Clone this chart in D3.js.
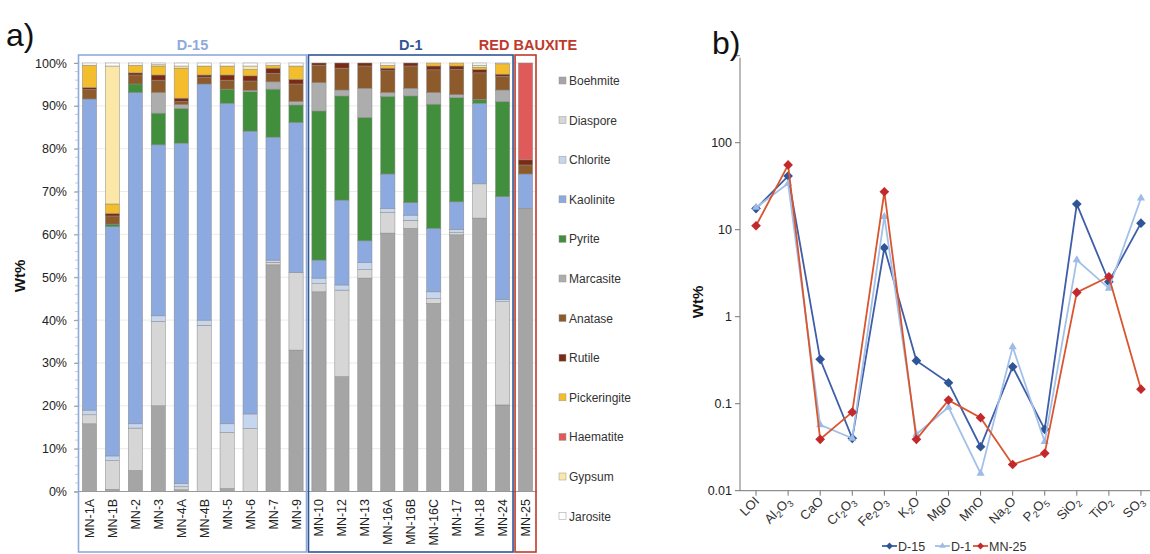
<!DOCTYPE html>
<html><head><meta charset="utf-8">
<script src="https://cdn.jsdelivr.net/npm/d3@7"></script>
<style>body{margin:0;background:#fff}svg{display:block;font-family:"Liberation Sans",Arial,sans-serif}</style>
</head><body><svg id="c" width="1150" height="554"></svg>
<script>
// ---------- data (a) ----------
const samples = ["MN-1A","MN-1B","MN-2","MN-3","MN-4A","MN-4B","MN-5","MN-6","MN-7","MN-9","MN-10","MN-12","MN-13","MN-16A","MN-16B","MN-16C","MN-17","MN-18","MN-24","MN-25"];
const minerals = ["Boehmite","Diaspore","Chlorite","Kaolinite","Pyrite","Marcasite","Anatase","Rutile","Pickeringite","Haematite","Gypsum","Jarosite"];
const boehmite     = [15.8,0.5,4.9,20,0.4,0,0.7,0,52.9,33,46.6,26.8,49.8,60.3,61.4,43.9,59.9,63.8,20.2,66.1];
const diaspore     = [2.1,6.7,9.9,19.7,0.7,38.8,13.1,14.7,0.6,18.1,1.9,20.2,2.0,4.8,1.9,1.1,0.5,8.0,24.1,0];
const chlorite     = [1.1,1.1,1.0,1.3,0.8,1.2,2.0,3.4,0.5,0,1.3,1.2,1.7,1.0,1.2,1.6,0.8,0,0.5,0];
const kaolinite    = [72.6,53.5,77.3,39.9,79.4,55.1,74.8,66.0,28.7,35.0,4.2,19.8,5.0,8.0,2.9,14.8,6.4,18.8,24.0,8.0];
const pyrite       = [0,0.6,2.0,7.4,8.1,0,3.3,9.2,11.2,4.1,34.8,24.3,28.8,18.1,24.9,29.0,24.3,0.9,22.2,0];
const marcasite    = [0,0,0,4.8,0.9,0,0,0.3,1.7,0.8,6.6,1.4,6.8,0.9,1.8,2.7,0.7,0,2.7,0];
const anatase      = [2.2,1.9,2.1,2.9,0.7,1.6,2.1,2.2,2.0,4.1,4.1,5.1,5.2,5.1,5.2,5.3,5.9,6.2,3.2,2.1];
const rutile       = [0.5,0.6,0.5,1.2,0.8,0.5,1.2,1.2,1.2,1.1,0.5,1.2,0.7,0.6,0.7,0.9,0.8,0.8,0.5,1.2];
const pickeringite = [5.2,2.2,1.8,2.1,7.0,2.1,2.1,1.5,0.7,3.1,0,0,0,0.7,0,0.7,0.7,0.5,2.4,0];
const haematite    = [0,0,0,0,0,0,0,0,0,0,0,0,0,0,0,0,0,0,0,22.6];
const gypsum       = [0,32.2,0,0.3,0.5,0,0,0.8,0,0,0,0,0,0,0,0,0,0.5,0,0];
const jarosite     = [0.5,0.7,0.5,0.4,0.7,0.7,0.7,0.7,0.5,0.7,0,0,0,0.5,0,0,0,0.5,0.2,0];
const percentTicks = [0,10,20,30,40,50,60,70,80,90,100];
const groups = [{name:"D-15",from:0,to:9},{name:"D-1",from:10,to:18},{name:"RED BAUXITE",from:19,to:19}];

// ---------- data (b) ----------
const oxides = ["LOI","Al2O3","CaO","Cr2O3","Fe2O3","K2O","MgO","MnO","Na2O","P2O5","SiO2","TiO2","SO3"];
const d15  = [17.5,41.4,0.324,0.040,6.2,0.312,0.174,0.032,0.266,0.0508,19.7,2.52,11.9];
const d1   = [18.0,34.0,0.057,0.040,14.1,0.0445,0.091,0.0158,0.45,0.0366,4.49,2.12,23.0];
const mn25 = [11.1,55.5,0.039,0.080,27.3,0.039,0.110,0.069,0.020,0.0269,1.90,2.88,0.147];
const logTicks = [0.01,0.1,1,10,100];

// ---------- styles ----------
const mineralColor = {Boehmite:"#a5a5a5",Diaspore:"#d6d6d6",Chlorite:"#c6d6ee",Kaolinite:"#8caadf",Pyrite:"#418f3c",
  Marcasite:"#adadad",Anatase:"#8d5a2c",Rutile:"#7a2b13",Pickeringite:"#f3bd2e",Haematite:"#e05a5a",Gypsum:"#fbe7a8",Jarosite:"#ffffff"};
const groupColor = {"D-15":"#8eaadb","D-1":"#2f5597","RED BAUXITE":"#c0392b"};

const svg = d3.select("#c");
svg.append("rect").attr("width",1150).attr("height",554).attr("fill","#fff");

// ================= chart a =================
const series = {Boehmite:boehmite,Diaspore:diaspore,Chlorite:chlorite,Kaolinite:kaolinite,Pyrite:pyrite,Marcasite:marcasite,
  Anatase:anatase,Rutile:rutile,Pickeringite:pickeringite,Haematite:haematite,Gypsum:gypsum,Jarosite:jarosite};
const table = samples.map((s,i)=>{const o={sample:s};minerals.forEach(m=>o[m]=series[m][i]);return o;});
const xA = d3.scaleBand().domain(samples).range([78,537]).paddingInner(0.38).paddingOuter(0.19);
const yA = d3.scaleLinear().domain([0,100]).range([491.5,63]);
const gA = svg.append("g");

gA.append("g").selectAll("line").data(percentTicks.slice(1)).join("line")
  .attr("x1",78).attr("x2",537).attr("y1",d=>yA(d)).attr("y2",d=>yA(d))
  .attr("stroke","#e6e6e6").attr("stroke-width",0.8);

const stacked = d3.stack().keys(minerals)(table);
gA.append("g").selectAll("g").data(stacked).join("g")
  .attr("fill",d=>mineralColor[d.key])
  .selectAll("rect").data(d=>d.filter(p=>p[1]-p[0]>0)).join("rect")
  .attr("x",d=>xA(d.data.sample)).attr("width",xA.bandwidth())
  .attr("y",d=>yA(d[1])).attr("height",d=>yA(d[0])-yA(d[1]))
  .attr("stroke","#8a8a8a").attr("stroke-width",0.5);

const axA = d3.axisLeft(yA).tickValues(percentTicks).tickFormat(d=>d+"%").tickSize(4);
const ay = gA.append("g").attr("transform","translate(78,0)").call(axA);
ay.select(".domain").attr("stroke","#b0b0b0");
ay.selectAll(".tick line").attr("stroke","#999");
ay.selectAll("text").attr("font-size",12.5).attr("fill","#222").attr("x",-11);
gA.append("g").selectAll("line").data(d3.range(0,101,2)).join("line")
  .attr("x1",75).attr("x2",78).attr("y1",d=>yA(d)).attr("y2",d=>yA(d)).attr("stroke","#aaa").attr("stroke-width",0.6);
gA.append("line").attr("x1",78).attr("x2",537).attr("y1",491.5).attr("y2",491.5).attr("stroke","#999");
gA.append("g").selectAll("text").data(samples).join("text")
  .attr("transform",d=>`translate(${xA(d)+xA.bandwidth()/2+4.5},499) rotate(-90)`)
  .attr("text-anchor","end").attr("font-size",12.5).attr("fill","#222").text(d=>d);

groups.forEach(g=>{
  const x0 = xA(samples[g.from]) - xA.step()*xA.paddingInner()/2;
  const left = g.from===0 ? 78.5 : x0+1;
  const right = xA(samples[g.to]) + xA.bandwidth() + xA.step()*xA.paddingInner()/2 - 1;
  gA.append("rect").attr("x",left).attr("y",55).attr("width",right-left).attr("height",497)
    .attr("fill","none").attr("stroke",groupColor[g.name]).attr("stroke-width",1.6);
  gA.append("text").attr("x",g.name==="RED BAUXITE"?528:(left+right)/2).attr("y",50).attr("text-anchor","middle")
    .attr("font-size",14.5).attr("font-weight","bold").attr("fill",groupColor[g.name]).text(g.name);
});

const lg = gA.append("g").selectAll("g").data(minerals).join("g")
  .attr("transform",(d,i)=>`translate(559,${81+i*39.6})`);
lg.append("rect").attr("x",0).attr("y",-4).attr("width",7).attr("height",7)
  .attr("fill",d=>mineralColor[d]).attr("stroke","#999").attr("stroke-width",0.5);
lg.append("text").attr("x",10).attr("y",4).attr("font-size",12).attr("fill","#333").text(d=>d);

svg.append("text").attr("x",25).attr("y",276).attr("transform","rotate(-90,25,276)").attr("text-anchor","middle")
  .attr("font-size",15).attr("font-weight","bold").attr("fill","#111").text("Wt%");
svg.append("text").attr("x",6).attr("y",46).attr("font-size",32).attr("fill","#111").text("a)");

// ================= chart b =================
const xB = d3.scaleBand().domain(oxides).range([740,1157]);
const cx = d=>xB(d)+xB.bandwidth()/2;
const yB = d3.scaleLog().domain([0.01,1000]).range([490.7,55.7]);
const gB = svg.append("g");
gB.append("line").attr("x1",740).attr("x2",740).attr("y1",yB(1000)+2).attr("y2",yB(0.01)).attr("stroke","#777");
gB.append("line").attr("x1",740).attr("x2",1150).attr("y1",yB(0.01)).attr("y2",yB(0.01)).attr("stroke","#777");
gB.append("g").selectAll("line").data(logTicks.concat([1000])).join("line")
  .attr("x1",735).attr("x2",740).attr("y1",d=>yB(d)).attr("y2",d=>yB(d)).attr("stroke","#777");
gB.append("g").selectAll("text").data(logTicks).join("text")
  .attr("x",732).attr("y",d=>yB(d)+4).attr("text-anchor","end").attr("font-size",12.5).attr("fill","#222")
  .text(d=>d3.format("~g")(d));
gB.append("g").selectAll("line").data(oxides).join("line")
  .attr("x1",d=>cx(d)).attr("x2",d=>cx(d)).attr("y1",yB(0.01)).attr("y2",yB(0.01)+5).attr("stroke","#777");
const xl = gB.append("g").selectAll("text").data(oxides).join("text")
  .attr("transform",d=>`translate(${cx(d)+4},502) rotate(-45)`)
  .attr("text-anchor","end").attr("font-size",13).attr("fill","#333");
xl.each(function(d){
  const t = d3.select(this); const parts = d.match(/\d+|\D+/g); let sub=false;
  parts.forEach(p=>{
    const isNum=/\d/.test(p);
    const ts=t.append("tspan").text(p);
    if(isNum){ts.attr("font-size",9).attr("dy",3);sub=true;}
    else if(sub){ts.attr("dy",-3);sub=false;}
  });
  if(sub) t.append("tspan").attr("dy",-3).text("");
});

const lineSeries = [
  {name:"D-15",vals:d15,line:"#3e5ea8",mark:"#2f5597",shape:"diamond"},
  {name:"D-1",vals:d1,line:"#a3c0e8",mark:"#9dbbe6",shape:"triangle"},
  {name:"MN-25",vals:mn25,line:"#d9552f",mark:"#c3282c",shape:"diamond"}];
const lineGen = d3.line().x((d,i)=>cx(oxides[i])).y(d=>yB(d));
const sym = s=>d3.symbol().type(s==="diamond"?d3.symbolDiamond2:d3.symbolTriangle2).size(s==="diamond"?60:48)();
lineSeries.forEach(s=>{
  gB.append("path").datum(s.vals).attr("d",lineGen).attr("fill","none").attr("stroke",s.line).attr("stroke-width",1.8);
  gB.append("g").selectAll("path").data(s.vals).join("path")
    .attr("transform",(d,i)=>`translate(${cx(oxides[i])},${yB(d)})`)
    .attr("d",sym(s.shape)).attr("fill",s.mark);
});
const legB = [{x:882,text:"D-15",s:lineSeries[0]},{x:935,text:"D-1",s:lineSeries[1]},{x:973,text:"MN-25",s:lineSeries[2]}];
legB.forEach(l=>{
  gB.append("line").attr("x1",l.x).attr("x2",l.x+15).attr("y1",546).attr("y2",546).attr("stroke",l.s.line).attr("stroke-width",1.8);
  gB.append("path").attr("transform",`translate(${l.x+7.5},546)`).attr("d",d3.symbol().type(l.s.shape==="diamond"?d3.symbolDiamond2:d3.symbolTriangle2).size(30)()).attr("fill",l.s.mark);
  gB.append("text").attr("x",l.x+16).attr("y",550.5).attr("font-size",12.5).attr("fill","#333").text(l.text);
});
svg.append("text").attr("x",703).attr("y",302).attr("transform","rotate(-90,703,302)").attr("text-anchor","middle")
  .attr("font-size",15).attr("font-weight","bold").attr("fill","#111").text("Wt%");
svg.append("text").attr("x",712).attr("y",54).attr("font-size",32).attr("fill","#111").text("b)");
</script></body></html>
